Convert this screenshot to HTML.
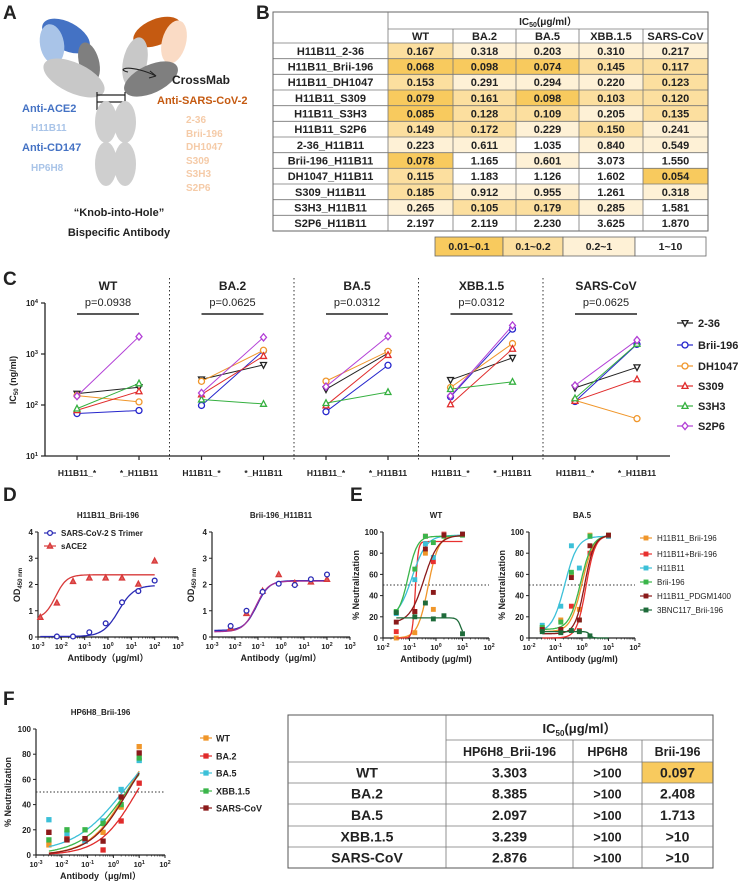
<!DOCTYPE html>
<html><head><meta charset="utf-8">
<style>
html,body{margin:0;padding:0;background:#fff;}
svg{display:block;font-family:"Liberation Sans","Noto Sans CJK SC",sans-serif;}
</style></head>
<body>
<svg id="fig" width="750" height="891" viewBox="0 0 750 891" xmlns="http://www.w3.org/2000/svg">
<rect x="0" y="0" width="750" height="891" fill="#fff"/>
<!-- Panel letters -->
<text x="3" y="19" font-size="19" font-weight="bold" fill="#222">A</text>
<text x="256" y="19" font-size="19" font-weight="bold" fill="#222">B</text>
<text x="3" y="285" font-size="19" font-weight="bold" fill="#222">C</text>
<text x="3" y="501" font-size="19" font-weight="bold" fill="#222">D</text>
<text x="350" y="501" font-size="19" font-weight="bold" fill="#222">E</text>
<text x="3" y="705" font-size="19" font-weight="bold" fill="#222">F</text>

<!-- Panel A diagram -->
<g>
  <ellipse cx="66" cy="36" rx="26" ry="14" transform="rotate(28 66 36)" fill="#4472C4"/>
  <ellipse cx="52" cy="44" rx="12" ry="20" transform="rotate(-10 52 44)" fill="#A9C4E8"/>
  <ellipse cx="89" cy="62" rx="10" ry="20" transform="rotate(-15 89 62)" fill="#7F7F7F"/>
  <ellipse cx="74" cy="78" rx="33" ry="15" transform="rotate(25 74 78)" fill="#C8C8C8"/>
  <ellipse cx="157" cy="32" rx="25" ry="13" transform="rotate(-22 157 32)" fill="#C55A11"/>
  <ellipse cx="174" cy="42" rx="12" ry="22" transform="rotate(15 174 42)" fill="#FADBC5"/>
  <ellipse cx="135" cy="62" rx="12" ry="25" transform="rotate(12 135 62)" fill="#C8C8C8"/>
  <ellipse cx="151" cy="79" rx="29" ry="14" transform="rotate(-25 151 79)" fill="#7F7F7F"/>
  <line x1="97" y1="92" x2="97" y2="110" stroke="#222" stroke-width="1.2"/>
  <line x1="125" y1="92" x2="125" y2="110" stroke="#222" stroke-width="1.2"/>
  <line x1="97" y1="95" x2="125" y2="95" stroke="#222" stroke-width="1.2"/>
  <line x1="97" y1="102" x2="125" y2="102" stroke="#222" stroke-width="1.2"/>
  <ellipse cx="106" cy="122" rx="11" ry="21" fill="#CFCFCF"/>
  <ellipse cx="125" cy="122" rx="11" ry="21" fill="#CFCFCF"/>
  <ellipse cx="106" cy="164" rx="11" ry="22" fill="#CFCFCF"/>
  <ellipse cx="125" cy="164" rx="11" ry="22" fill="#CFCFCF"/>
  <path d="M128 72 C118 70 124 66 140 70 C148 72 152 74 156 76" fill="none" stroke="#222" stroke-width="1.1"/>
  <path d="M156 76 L150 71 M156 76 L149 78" fill="none" stroke="#222" stroke-width="1.1"/>
</g>
<text x="172" y="84" font-size="12" font-weight="bold" fill="#222">CrossMab</text>
<text x="157" y="104" font-size="11" font-weight="bold" fill="#C55A11">Anti-SARS-CoV-2</text>
<text x="22" y="112" font-size="11" font-weight="bold" fill="#4472C4">Anti-ACE2</text>
<text x="31" y="131" font-size="10" font-weight="bold" fill="#A9C4E8">H11B11</text>
<text x="22" y="151" font-size="11" font-weight="bold" fill="#4472C4">Anti-CD147</text>
<text x="31" y="171" font-size="10" font-weight="bold" fill="#A9C4E8">HP6H8</text>
<g font-size="10" font-weight="bold" fill="#F5CBA8">
  <text x="186" y="123">2-36</text><text x="186" y="137">Brii-196</text><text x="186" y="150">DH1047</text>
  <text x="186" y="164">S309</text><text x="186" y="177">S3H3</text><text x="186" y="191">S2P6</text>
</g>
<text x="119" y="216" font-size="11" font-weight="bold" fill="#222" text-anchor="middle">“Knob-into-Hole”</text>
<text x="119" y="236" font-size="11" font-weight="bold" fill="#222" text-anchor="middle">Bispecific Antibody</text>

<g id="tableB"></g>
<g id="chartC"></g>
<g id="chartD"></g>
<g id="chartE"></g>
<g id="chartF"></g>
<g id="tableF"></g>
</svg>
<script>
// ===== Data =====
const bRows = ['H11B11_2-36','H11B11_Brii-196','H11B11_DH1047','H11B11_S309','H11B11_S3H3','H11B11_S2P6','2-36_H11B11','Brii-196_H11B11','DH1047_H11B11','S309_H11B11','S3H3_H11B11','S2P6_H11B11'];
const bCols = ['WT','BA.2','BA.5','XBB.1.5','SARS-CoV'];
const bVals = [
 [0.167,0.318,0.203,0.310,0.217],
 [0.068,0.098,0.074,0.145,0.117],
 [0.153,0.291,0.294,0.220,0.123],
 [0.079,0.161,0.098,0.103,0.120],
 [0.085,0.128,0.109,0.205,0.135],
 [0.149,0.172,0.229,0.150,0.241],
 [0.223,0.611,1.035,0.840,0.549],
 [0.078,1.165,0.601,3.073,1.550],
 [0.115,1.183,1.126,1.602,0.054],
 [0.185,0.912,0.955,1.261,0.318],
 [0.265,0.105,0.179,0.285,1.581],
 [2.197,2.119,2.230,3.625,1.870]];
const bLegend = ['0.01~0.1','0.1~0.2','0.2~1','1~10'];

const cGroups = ['WT','BA.2','BA.5','XBB.1.5','SARS-CoV'];
const cPvals = ['p=0.0938','p=0.0625','p=0.0312','p=0.0312','p=0.0625'];
const cSeries = ['2-36','Brii-196','DH1047','S309','S3H3','S2P6'];
const cTicks = [1,2,3,4];

const dDoses = [-2.9,-2.19,-1.5,-0.8,-0.1,0.6,1.3,2.0];
const dTrimer1 = [null,0.02,0.02,0.18,0.52,1.32,1.75,2.15];
const dAce1 = [0.75,1.3,2.12,2.25,2.25,2.25,2.02,2.9];
const dTrimer2 = [null,0.42,1.0,1.72,2.03,1.98,2.2,2.38];
const dAce2 = [null,0.35,0.9,1.75,2.38,2.05,2.1,2.2];
// curve params: [logEC50, hill, bottom, top]
const dFit1 = [[0.45,1.3,0.02,1.97],[-2.25,1.8,0.7,2.37]];
const dFit2 = [[-1.05,1.6,0.25,2.15],[-1.1,1.6,0.2,2.13]];

const eSeries = ['H11B11_Brii-196','H11B11+Brii-196','H11B11','Brii-196','H11B11_PDGM1400','3BNC117_Brii-196'];
const eDoses = [-1.5,-0.8,-0.4,-0.1,0.3,1.0];
const eWT = [[0,5,80,27,97,98],[6,25,96,72,98,98],[23,55,89,76,97,98],[25,65,96,90,96,97],[15,25,84,43,97,98],[24,20,33,18,21,4]];
const eBA5 = [[10,17,60,27,97,97],[8,8,30,7,80,96],[12,30,87,66,96,96],[10,15,62,17,96,97],[8,8,57,17,87,97],[6,5,7,6,2,null]];
const eFitWT = [[-0.3,2.2,0,97],[-0.78,8,0,91],[-0.9,1.6,18,97],[-1.05,2.5,20,96],[-0.45,1.6,14,97],[0.95,-6,0,19]];
const eFitBA5 = [[0.0,2,6,97],[0.15,2.5,0,97],[-0.65,1.8,5,96],[-0.05,2,8,97],[0.1,2.4,4,97],[0.3,-8,0,6]];

const fSeries = ['WT','BA.2','BA.5','XBB.1.5','SARS-CoV'];
const fDoses = [-2.5,-1.8,-1.1,-0.4,0.3,1.0];
const fVals = [[8,12,13,18,38,86],[18,13,11,4,27,57],[28,17,11,27,52,75],[12,20,20,25,40,77],[18,12,13,11,46,81]];
const fFit = [[0.5,0.6,0,100],[0.9,0.6,0,100],[0.4,0.45,2,100],[0.5,0.5,0,100],[0.55,0.6,0,100]];

const fRows = ['WT','BA.2','BA.5','XBB.1.5','SARS-CoV'];
const fCols = ['HP6H8_Brii-196','HP6H8','Brii-196'];
const fTable = [['3.303','>100','0.097'],['8.385','>100','2.408'],['2.097','>100','1.713'],['3.239','>100','>10'],['2.876','>100','>10']];

// ===== Helpers =====
const NS = 'http://www.w3.org/2000/svg';
function mk(tag, attrs, parent){ const e=document.createElementNS(NS,tag); for(const k in attrs) e.setAttribute(k,attrs[k]); parent.appendChild(e); return e; }
function txt(parent,x,y,s,attrs){ const e=mk('text',Object.assign({x:x,y:y},attrs||{}),parent); e.textContent=s; return e; }
function pow(parent,x,y,exp,size,anchor){ const e=mk('text',{x:x,y:y,'font-size':size,'font-weight':'bold','text-anchor':anchor,fill:'#222'},parent); e.appendChild(document.createTextNode('10')); const t=mk('tspan',{dy:-size*0.4,'font-size':size*0.7},e); t.textContent=String(exp); return e; }
function marker(parent,shape,x,y,color,r,fill){
  let e;
  if(shape==='circle') e=mk('circle',{cx:x,cy:y,r:r},parent);
  else if(shape==='tri') e=mk('path',{d:`M${x} ${y-r*1.1}L${x+r} ${y+r*0.8}L${x-r} ${y+r*0.8}Z`},parent);
  else if(shape==='itri') e=mk('path',{d:`M${x} ${y+r*1.1}L${x+r} ${y-r*0.8}L${x-r} ${y-r*0.8}Z`},parent);
  else if(shape==='dia') e=mk('path',{d:`M${x} ${y-r*1.2}L${x+r} ${y}L${x} ${y+r*1.2}L${x-r} ${y}Z`},parent);
  else e=mk('rect',{x:x-r,y:y-r,width:2*r,height:2*r},parent);
  e.setAttribute('fill',fill||'#fff'); e.setAttribute('stroke',color); e.setAttribute('stroke-width',1.3);
  return e;
}
function sig(x,p){ return p[2]+(p[3]-p[2])/(1+Math.pow(10,(p[0]-x)*p[1])); }

// ===== Table B =====
(function(){
  const g=document.getElementById('tableB');
  const colX=[273,388,453,516,579,643,708];
  const top=12, h1=29, h2=43, rh=(231-43)/12;
  function shade(v){ return v<0.1?'#F8CA5E':v<0.2?'#FCDF9F':v<1?'#FEF1D6':'#FFFFFF'; }
  for(let i=0;i<bRows.length;i++){
    for(let j=0;j<bCols.length;j++){
      const c=mk('rect',{x:colX[j+1],y:h2+i*rh,width:colX[j+2]-colX[j+1],height:rh,fill:shade(bVals[i][j])},g);
      
      
      const t=txt(g,(colX[j+1]+colX[j+2])/2,h2+i*rh+rh/2+4,bVals[i][j].toFixed(3),{'font-size':11,'font-weight':'bold','text-anchor':'middle',fill:'#222'});
      
      
    }
    const rl=txt(g,(colX[0]+colX[1])/2,h2+i*rh+rh/2+4,bRows[i],{'font-size':11,'font-weight':'bold','text-anchor':'middle',fill:'#222'});
    
    
    mk('line',{x1:colX[0],x2:colX[6],y1:h2+i*rh,y2:h2+i*rh,stroke:'#777','stroke-width':0.8},g);
  }
  mk('rect',{x:colX[0],y:top,width:colX[6]-colX[0],height:231-top,fill:'none',stroke:'#666','stroke-width':1},g);
  mk('line',{x1:colX[1],x2:colX[6],y1:h1,y2:h1,stroke:'#777','stroke-width':0.8},g);
  for(let j=1;j<6;j++) mk('line',{x1:colX[j],x2:colX[j],y1:j===1?top:h1,y2:231,stroke:'#777','stroke-width':0.8},g);
  const hd=mk('text',{x:(colX[1]+colX[6])/2,y:25,'font-size':10,'font-weight':'bold','text-anchor':'middle',fill:'#222'},g);
  
  
  hd.appendChild(document.createTextNode('IC')); const s=mk('tspan',{'font-size':7,dy:2},hd); s.textContent='50'; const s2=mk('tspan',{dy:-2},hd); s2.textContent='(μg/ml）';
  for(let j=0;j<bCols.length;j++){
    const t=txt(g,(colX[j+1]+colX[j+2])/2,40,bCols[j],{'font-size':11,'font-weight':'bold','text-anchor':'middle',fill:'#222'});
    
    
  }
  const lx=[435,503,563,635,706], lc=['#F8CA5E','#FCDF9F','#FEF1D6','#FFFFFF'];
  for(let k=0;k<4;k++){
    const r=mk('rect',{x:lx[k],y:237,width:lx[k+1]-lx[k],height:19,fill:lc[k],stroke:'#666','stroke-width':0.8},g);
    
    
    const t=txt(g,(lx[k]+lx[k+1])/2,250,bLegend[k],{'font-size':10.5,'font-weight':'bold','text-anchor':'middle',fill:'#222'});
    
    
  }
})();

// ===== Chart C =====
(function(){
  const g=document.getElementById('chartC');
  const shapes=['itri','circle','circle','tri','tri','dia'];
  const colors=['#222','#2525CC','#F0962A','#E02B2B','#35B040','#B23FD6'];
  const y=v=>456-(Math.log10(v)-1)*51;
  const gw=124.5, x0=45;
  const ax=mk('line',{x1:45,x2:45,y1:303,y2:456,stroke:'#222','stroke-width':1.3},g);
  
  
  const xa=mk('line',{x1:45,x2:670,y1:456,y2:456,stroke:'#222','stroke-width':1.3},g);
  
  
  cTicks.forEach(t=>{
    const yy=456-(t-1)*51;
    mk('line',{x1:41,x2:45,y1:yy,y2:yy,stroke:'#222','stroke-width':1.2},g);
    const l=pow(g,38,yy+3,t,8,'end');
    
    
  });
  const yt=mk('text',{transform:'translate(16 380) rotate(-90)','font-size':9,'font-weight':'bold','text-anchor':'middle',fill:'#222'},g);
  
  
  yt.appendChild(document.createTextNode('IC')); const sb=mk('tspan',{'font-size':6,dy:2},yt); sb.textContent='50'; const s3=mk('tspan',{dy:-2},yt); s3.textContent=' (ng/ml)';
  cGroups.forEach((gn,gi)=>{
    const gx=x0+gi*gw, lx=gx+32, rx=gx+94;
    if(gi>0){ const d=mk('line',{x1:gx,x2:gx,y1:278,y2:462,stroke:'#333','stroke-width':1,'stroke-dasharray':'1.5 2.5'},g);
      
       }
    const t=txt(g,(lx+rx)/2,290,gn,{'font-size':12,'font-weight':'bold','text-anchor':'middle',fill:'#222'});
    
    
    const p=txt(g,(lx+rx)/2,306,cPvals[gi],{'font-size':11,'text-anchor':'middle',fill:'#222'});
    
    
    const b=mk('line',{x1:lx,x2:rx,y1:314,y2:314,stroke:'#222','stroke-width':1.6},g);
    
    
    [[lx,'H11B11_*'],[rx,'*_H11B11']].forEach(([xx,s])=>{
      mk('line',{x1:xx,x2:xx,y1:456,y2:460,stroke:'#222','stroke-width':1.2},g);
      const l=txt(g,xx,476,s,{'font-size':8.5,'font-weight':'bold','text-anchor':'middle',fill:'#222'});
      
      
    });
    cSeries.forEach((sn,si)=>{
      const a=bVals[si][gi]*1000, c=bVals[si+6][gi]*1000;
      const ln=mk('line',{x1:lx,y1:y(a),x2:rx,y2:y(c),stroke:colors[si],'stroke-width':1},g);
      
      
      const m1=marker(g,shapes[si],lx,y(a),colors[si],3);
      
      
      const m2=marker(g,shapes[si],rx,y(c),colors[si],3);
      
      
    });
  });
  const ly=[323,345,366,386,406,426];
  cSeries.forEach((sn,si)=>{
    mk('line',{x1:677,x2:693,y1:ly[si],y2:ly[si],stroke:colors[si],'stroke-width':1.2},g);
    const m=marker(g,shapes[si],685,ly[si],colors[si],3);
    
    
    const t=txt(g,698,ly[si]+4,sn,{'font-size':11,'font-weight':'bold',fill:'#222'});
    
    
  });
})();

// ===== generic log-x plot =====
function logPlot(g,o){
  const X=v=>o.x0+(v-o.lmin)*(o.x1-o.x0)/(o.lmax-o.lmin);
  const Y=v=>o.yb-(v-o.vmin)*(o.yb-o.yt)/(o.vmax-o.vmin);
  const ya=mk('line',{x1:o.x0,x2:o.x0,y1:o.yt,y2:o.yb,stroke:'#222','stroke-width':1.2},g);
  
  
  const xa=mk('line',{x1:o.x0,x2:o.x1,y1:o.yb,y2:o.yb,stroke:'#222','stroke-width':1.2},g);
  
  
  o.yticks.forEach(t=>{ mk('line',{x1:o.x0-3,x2:o.x0,y1:Y(t),y2:Y(t),stroke:'#222','stroke-width':1},g);
    const l=txt(g,o.x0-5,Y(t)+3,String(t),{'font-size':8,'font-weight':'bold','text-anchor':'end',fill:'#222'});
    
     });
  for(let e=o.lmin;e<=o.lmax;e++){ mk('line',{x1:X(e),x2:X(e),y1:o.yb,y2:o.yb+3,stroke:'#222','stroke-width':1},g);
    for(let k=2;k<10&&e<o.lmax;k++){ const xx=X(e+Math.log10(k)); mk('line',{x1:xx,x2:xx,y1:o.yb,y2:o.yb+1.5,stroke:'#222','stroke-width':0.7},g); }
    const l=pow(g,X(e),o.yb+12,e,7.5,'middle');
    
     }
  const xt=txt(g,(o.x0+o.x1)/2,o.yb+24,o.xtitle,{'font-size':9,'font-weight':'bold','text-anchor':'middle',fill:'#222'});
  
  
  if(o.title){ const tt=txt(g,(o.x0+o.x1)/2,o.yt-14,o.title,{'font-size':8,'font-weight':'bold','text-anchor':'middle',fill:'#222'});
    
     }
  return {X,Y};
}
function curve(g,s,p,lo,hi,color){
  let d=''; for(let i=0;i<=80;i++){ const x=lo+(hi-lo)*i/80; d+=(i?'L':'M')+s.X(x).toFixed(1)+' '+s.Y(sig(x,p)).toFixed(1); }
  return mk('path',{d:d,fill:'none',stroke:color,'stroke-width':1.3},g);
}
function ytitle(g,x,y,s){ const t=mk('text',{transform:`translate(${x} ${y}) rotate(-90)`,'font-size':9,'font-weight':'bold','text-anchor':'middle',fill:'#222'},g); t.textContent=s; return t; }

// ===== Chart D =====
(function(){
  const g=document.getElementById('chartD');
  const common={lmin:-3,lmax:3,yt:532,yb:637,vmin:0,vmax:4,yticks:[0,1,2,3,4],xtitle:'Antibody（μg/ml）'};
  const blue='#2A2AB5', red='#D83A3A', purple='#A0309A';
  [[38,178,dTrimer1,dAce1,dFit1,'H11B11_Brii-196'],[212,350,dTrimer2,dAce2,dFit2,'Brii-196_H11B11']].forEach((cfg,pi)=>{
    const s=logPlot(g,Object.assign({x0:cfg[0],x1:cfg[1],title:cfg[5]},common));
    const yl=mk('text',{transform:`translate(${cfg[0]-18} 585) rotate(-90)`,'font-size':9,'font-weight':'bold','text-anchor':'middle',fill:'#222'},g);
    
    
    yl.appendChild(document.createTextNode('OD')); const sb=mk('tspan',{'font-size':6,dy:2},yl); sb.textContent='450 nm';
    const c1=curve(g,s,cfg[4][0],-2.9,2.0,blue);
    
    
    const c2=curve(g,s,cfg[4][1],-2.9,2.0,pi? purple:red);
    
    
    dDoses.forEach((d,i)=>{
      if(cfg[3][i]!==null){ const m=marker(g,'tri',s.X(d),s.Y(cfg[3][i]),red,2.6,'#E06060');
        
         }
      if(cfg[2][i]!==null){ const m=marker(g,'circle',s.X(d),s.Y(cfg[2][i]),blue,2.4);
        
         }
    });
  });
  mk('line',{x1:44,x2:56,y1:533,y2:533,stroke:blue,'stroke-width':1.2},g);
  const m1=marker(g,'circle',50,533,blue,2.4);
  
  
  const t1=txt(g,61,536,'SARS-CoV-2 S Trimer',{'font-size':8,'font-weight':'bold',fill:'#222'});
  
  
  mk('line',{x1:44,x2:56,y1:546,y2:546,stroke:red,'stroke-width':1.2},g);
  const m2=marker(g,'tri',50,546,red,2.6,'#E06060');
  
  
  const t2=txt(g,61,549,'sACE2',{'font-size':8,'font-weight':'bold',fill:'#222'});
  
  
})();

// ===== Chart E =====
(function(){
  const g=document.getElementById('chartE');
  const colors=['#F0962A','#E8312F','#3CC0D8','#3BB54A','#8B1A1A','#1E6B3A'];
  const common={lmin:-2,lmax:2,yt:532,yb:638,vmin:0,vmax:100,yticks:[0,20,40,60,80,100],xtitle:'Antibody (μg/ml)'};
  [[383,489,eWT,eFitWT,'WT'],[529,635,eBA5,eFitBA5,'BA.5']].forEach(cfg=>{
    const s=logPlot(g,Object.assign({x0:cfg[0],x1:cfg[1],title:cfg[4]},common));
    const yt=ytitle(g,cfg[0]-24,585,'% Neutralization');
    
    
    const dl=mk('line',{x1:cfg[0],x2:cfg[1]+(cfg[4]==='BA.5'?0:0),y1:s.Y(50),y2:s.Y(50),stroke:'#333','stroke-width':0.9,'stroke-dasharray':'1.5 2'},g);
    
    
    eSeries.forEach((sn,si)=>{
      const c=curve(g,s,cfg[3][si],-1.5,1.0,colors[si]);
      
      
      eDoses.forEach((d,i)=>{ const v=cfg[2][si][i]; if(v===null) return;
        const m=marker(g,'rect',s.X(d),s.Y(v),colors[si],1.8,colors[si]);
        
         });
    });
  });
  const ly=[538,554,568,582,596,610];
  eSeries.forEach((sn,si)=>{
    mk('line',{x1:640,x2:652,y1:ly[si],y2:ly[si],stroke:colors[si],'stroke-width':1.2},g);
    const m=marker(g,'rect',646,ly[si],colors[si],1.8,colors[si]);
    
    
    const t=txt(g,657,ly[si]+3,sn,{'font-size':8,fill:'#222'});
    
    
  });
})();

// ===== Chart F =====
(function(){
  const g=document.getElementById('chartF');
  const colors=['#F0962A','#E02B2B','#3CC0D8','#3BB54A','#8B1A1A'];
  const s=logPlot(g,{x0:36,x1:165,lmin:-3,lmax:2,yt:729,yb:855,vmin:0,vmax:100,yticks:[0,20,40,60,80,100],xtitle:'Antibody（μg/ml）',title:'HP6H8_Brii-196'});
  const yt=ytitle(g,11,792,'% Neutralization');
  
  
  const dl=mk('line',{x1:36,x2:165,y1:s.Y(50),y2:s.Y(50),stroke:'#333','stroke-width':0.9,'stroke-dasharray':'1.5 2'},g);
  
  
  fSeries.forEach((sn,si)=>{
    const c=curve(g,s,fFit[si],-2.5,1.0,colors[si]);
    
    
    fDoses.forEach((d,i)=>{
      const m=marker(g,'rect',s.X(d),s.Y(fVals[si][i]),colors[si],2,colors[si]);
      
      
    });
  });
  const ly=[738,756,773,791,808];
  fSeries.forEach((sn,si)=>{
    mk('line',{x1:200,x2:212,y1:ly[si],y2:ly[si],stroke:colors[si],'stroke-width':1.2},g);
    const m=marker(g,'rect',206,ly[si],colors[si],2,colors[si]);
    
    
    const t=txt(g,216,ly[si]+3.5,sn,{'font-size':9,'font-weight':'bold',fill:'#222'});
    
    
  });
})();

// ===== Table F =====
(function(){
  const g=document.getElementById('tableF');
  const cx=[288,446,573,642,713], ry=[715,740,762,783,804,826,847,868];
  const hc=mk('rect',{x:cx[3],y:ry[2],width:cx[4]-cx[3],height:ry[3]-ry[2],fill:'#F8CA5E'},g);
  
  
  mk('rect',{x:cx[0],y:ry[0],width:cx[4]-cx[0],height:ry[7]-ry[0],fill:'none',stroke:'#555','stroke-width':1},g);
  mk('line',{x1:cx[1],x2:cx[4],y1:ry[1],y2:ry[1],stroke:'#777','stroke-width':0.8},g);
  for(let r=2;r<7;r++) mk('line',{x1:cx[0],x2:cx[4],y1:ry[r],y2:ry[r],stroke:'#777','stroke-width':0.8},g);
  mk('line',{x1:cx[1],x2:cx[1],y1:ry[0],y2:ry[7],stroke:'#777','stroke-width':0.8},g);
  mk('line',{x1:cx[2],x2:cx[2],y1:ry[1],y2:ry[7],stroke:'#777','stroke-width':0.8},g);
  mk('line',{x1:cx[3],x2:cx[3],y1:ry[1],y2:ry[7],stroke:'#777','stroke-width':0.8},g);
  const hd=mk('text',{x:(cx[1]+cx[4])/2,y:733,'font-size':13,'font-weight':'bold','text-anchor':'middle',fill:'#222'},g);
  
  
  hd.appendChild(document.createTextNode('IC')); const sb=mk('tspan',{'font-size':8,dy:3},hd); sb.textContent='50'; const s2=mk('tspan',{dy:-3},hd); s2.textContent='(μg/ml）';
  fCols.forEach((c,j)=>{
    const t=txt(g,(cx[j+1]+cx[j+2])/2,756,c,{'font-size':12.5,'font-weight':'bold','text-anchor':'middle',fill:'#222'});
    
    
  });
  fRows.forEach((rn,i)=>{
    const yy=(ry[i+2]+ry[i+3])/2+5;
    const t=txt(g,(cx[0]+cx[1])/2,yy,rn,{'font-size':14,'font-weight':'bold','text-anchor':'middle',fill:'#222'});
    
    
    fTable[i].forEach((v,j)=>{
      const c=txt(g,(cx[j+1]+cx[j+2])/2,yy,v,{'font-size':j===1?12.5:14,'font-weight':'bold','text-anchor':'middle',fill:'#222'});
      
      
    });
  });
})();
</script>
</body></html>
